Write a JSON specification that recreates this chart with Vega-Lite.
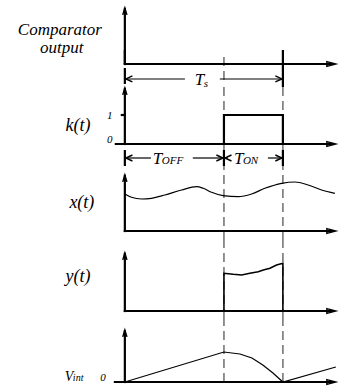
{
  "$schema": "https://vega.github.io/schema/vega-lite/v6.json",
  "padding": 0,
  "spacing": 0,
  "bounds": "flush",
  "background": "white",
  "config": {"view": {"stroke": null}, "concat": {"spacing": 0}, "text": {"font": "'Liberation Serif', 'Times New Roman', serif", "fontStyle": "italic", "color": "black", "baseline": "alphabetic"}},
  "datasets": {
    "parts": [
      {"panel": "c", "kind": "dash", "t": 0.627, "t2": 0.627, "v": 0.241, "v2": -0.69},
      {"panel": "c", "kind": "axis", "t": 0, "t2": 0, "v": 0, "v2": 1.9},
      {"panel": "c", "kind": "axis", "t": 0, "t2": 1.32, "v": 0, "v2": 0},
      {"panel": "c", "kind": "tick", "t": 0, "t2": 0, "v": 0, "v2": 0.483},
      {"panel": "c", "kind": "tick", "t": 1, "t2": 1, "v": 0.483, "v2": -0.69},
      {"panel": "c", "kind": "tick", "t": 0, "t2": 0, "v": -0.138, "v2": -0.69},
      {"panel": "c", "kind": "dim", "t": 0.006, "t2": 0.38, "v": -0.517, "v2": -0.517},
      {"panel": "c", "kind": "dim", "t": 0.601, "t2": 0.994, "v": -0.517, "v2": -0.517},
      {"panel": "c", "kind": "head", "dir": "up", "t": 0, "v": 1.931},
      {"panel": "c", "kind": "head", "dir": "right", "t": 1.335, "v": 0},
      {"panel": "c", "kind": "head", "dir": "left_dim", "t": 0.006, "v": -0.517},
      {"panel": "c", "kind": "head", "dir": "right_dim", "t": 0.994, "v": -0.517},
      {"panel": "c", "kind": "cap", "text": "Comparator", "t": -0.411, "v": 0.983},
      {"panel": "c", "kind": "cap", "text": "output", "t": -0.399, "v": 0.362},
      {"panel": "c", "kind": "T", "text": "T", "t": 0.443, "v": -0.724},
      {"panel": "c", "kind": "sub", "text": "s", "t": 0.5, "v": -0.793},

      {"panel": "k", "kind": "dash", "t": 0.627, "t2": 0.627, "v": -0.759, "v2": 2.069},
      {"panel": "k", "kind": "dash", "t": 1, "t2": 1, "v": -0.759, "v2": 2.069},
      {"panel": "k", "kind": "axis", "t": 0, "t2": 0, "v": 0, "v2": 1.9},
      {"panel": "k", "kind": "axis", "t": -0.057, "t2": 1.32, "v": 0, "v2": 0},
      {"panel": "k", "kind": "axis", "t": -0.019, "t2": 0, "v": 1, "v2": 1},
      {"panel": "k", "kind": "tick", "t": 0, "t2": 0, "v": -0.207, "v2": -0.759},
      {"panel": "k", "kind": "tick", "t": 0.627, "t2": 0.627, "v": -0.207, "v2": -0.759},
      {"panel": "k", "kind": "tick", "t": 1, "t2": 1, "v": -0.207, "v2": -0.759},
      {"panel": "k", "kind": "tick", "t": 1, "t2": 1, "v": 2.069, "v2": 1.966},
      {"panel": "k", "kind": "dim", "t": 0.006, "t2": 0.165, "v": -0.483, "v2": -0.483},
      {"panel": "k", "kind": "dim", "t": 0.43, "t2": 0.621, "v": -0.483, "v2": -0.483},
      {"panel": "k", "kind": "dim", "t": 0.633, "t2": 0.652, "v": -0.483, "v2": -0.483},
      {"panel": "k", "kind": "dim", "t": 0.905, "t2": 0.994, "v": -0.483, "v2": -0.483},
      {"panel": "k", "kind": "step", "i": 0, "t": 0.627, "v": 0},
      {"panel": "k", "kind": "step", "i": 1, "t": 0.627, "v": 1},
      {"panel": "k", "kind": "step", "i": 2, "t": 1, "v": 1},
      {"panel": "k", "kind": "step", "i": 3, "t": 1, "v": 0},
      {"panel": "k", "kind": "head", "dir": "up", "t": 0, "v": 1.931},
      {"panel": "k", "kind": "head", "dir": "right", "t": 1.335, "v": 0},
      {"panel": "k", "kind": "head", "dir": "left_dim", "t": 0.006, "v": -0.483},
      {"panel": "k", "kind": "head", "dir": "right_dim", "t": 0.621, "v": -0.483},
      {"panel": "k", "kind": "head", "dir": "left_dim", "t": 0.633, "v": -0.483},
      {"panel": "k", "kind": "head", "dir": "right_dim", "t": 0.994, "v": -0.483},
      {"panel": "k", "kind": "big", "text": "k(t)", "t": -0.297, "v": 0.448},
      {"panel": "k", "kind": "num", "text": "1", "t": -0.095, "v": 0.862},
      {"panel": "k", "kind": "num", "text": "0", "t": -0.095, "v": 0.034},
      {"panel": "k", "kind": "T", "text": "T", "t": 0.177, "v": -0.69},
      {"panel": "k", "kind": "sub", "text": "OFF", "t": 0.234, "v": -0.69},
      {"panel": "k", "kind": "T", "text": "T", "t": 0.69, "v": -0.69},
      {"panel": "k", "kind": "sub", "text": "ON", "t": 0.747, "v": -0.69},

      {"panel": "x", "kind": "dash", "t": 0.627, "t2": 0.627, "v": -0.31, "v2": 2.241},
      {"panel": "x", "kind": "dash", "t": 1, "t2": 1, "v": -0.31, "v2": 2.241},
      {"panel": "x", "kind": "axis", "t": 0, "t2": 0, "v": 0, "v2": 1.9},
      {"panel": "x", "kind": "axis", "t": 0, "t2": 1.32, "v": 0, "v2": 0},
      {"panel": "x", "kind": "head", "dir": "up", "t": 0, "v": 1.931},
      {"panel": "x", "kind": "head", "dir": "right", "t": 1.335, "v": 0},
      {"panel": "x", "kind": "wave", "i": 0, "t": 0, "v": 1.276},
      {"panel": "x", "kind": "wave", "i": 1, "t": 0.042, "v": 1.162},
      {"panel": "x", "kind": "wave", "i": 2, "t": 0.105, "v": 1.103},
      {"panel": "x", "kind": "wave", "i": 3, "t": 0.169, "v": 1.128},
      {"panel": "x", "kind": "wave", "i": 4, "t": 0.253, "v": 1.241},
      {"panel": "x", "kind": "wave", "i": 5, "t": 0.359, "v": 1.414},
      {"panel": "x", "kind": "wave", "i": 6, "t": 0.454, "v": 1.528},
      {"panel": "x", "kind": "wave", "i": 7, "t": 0.496, "v": 1.472},
      {"panel": "x", "kind": "wave", "i": 8, "t": 0.549, "v": 1.334},
      {"panel": "x", "kind": "wave", "i": 9, "t": 0.622, "v": 1.217},
      {"panel": "x", "kind": "wave", "i": 10, "t": 0.717, "v": 1.183},
      {"panel": "x", "kind": "wave", "i": 11, "t": 0.802, "v": 1.276},
      {"panel": "x", "kind": "wave", "i": 12, "t": 0.886, "v": 1.472},
      {"panel": "x", "kind": "wave", "i": 13, "t": 0.992, "v": 1.645},
      {"panel": "x", "kind": "wave", "i": 14, "t": 1.076, "v": 1.69},
      {"panel": "x", "kind": "wave", "i": 15, "t": 1.16, "v": 1.586},
      {"panel": "x", "kind": "wave", "i": 16, "t": 1.245, "v": 1.414},
      {"panel": "x", "kind": "wave", "i": 17, "t": 1.329, "v": 1.3},
      {"panel": "x", "kind": "big", "text": "x(t)", "t": -0.272, "v": 0.793},

      {"panel": "y", "kind": "dash", "t": 0.627, "t2": 0.627, "v": -0.241, "v2": 2.448},
      {"panel": "y", "kind": "dash", "t": 1, "t2": 1, "v": -0.241, "v2": 2.448},
      {"panel": "y", "kind": "axis", "t": 0, "t2": 0, "v": 0, "v2": 1.97},
      {"panel": "y", "kind": "axis", "t": 0, "t2": 1.32, "v": 0, "v2": 0},
      {"panel": "y", "kind": "head", "dir": "up", "t": 0, "v": 2.0},
      {"panel": "y", "kind": "head", "dir": "right", "t": 1.335, "v": 0},
      {"panel": "y", "kind": "trace", "i": 0, "t": 0.627, "v": 0},
      {"panel": "y", "kind": "trace", "i": 1, "t": 0.627, "v": 1.3},
      {"panel": "y", "kind": "trace", "i": 2, "t": 0.686, "v": 1.265},
      {"panel": "y", "kind": "trace", "i": 3, "t": 0.739, "v": 1.241},
      {"panel": "y", "kind": "trace", "i": 4, "t": 0.791, "v": 1.3},
      {"panel": "y", "kind": "trace", "i": 5, "t": 0.844, "v": 1.355},
      {"panel": "y", "kind": "trace", "i": 6, "t": 0.876, "v": 1.414},
      {"panel": "y", "kind": "trace", "i": 7, "t": 0.918, "v": 1.472},
      {"panel": "y", "kind": "trace", "i": 8, "t": 0.96, "v": 1.586},
      {"panel": "y", "kind": "trace", "i": 9, "t": 1, "v": 1.645},
      {"panel": "y", "kind": "trace", "i": 10, "t": 1, "v": 0},
      {"panel": "y", "kind": "big", "text": "y(t)", "t": -0.297, "v": 1.0},

      {"panel": "v", "kind": "dash", "t": 0.627, "t2": 0.627, "v": 0, "v2": 2.207},
      {"panel": "v", "kind": "dash", "t": 1, "t2": 1, "v": 0, "v2": 2.207},
      {"panel": "v", "kind": "axis", "t": 0, "t2": 0, "v": 0, "v2": 1.75},
      {"panel": "v", "kind": "axis", "t": -0.063, "t2": 1.32, "v": 0, "v2": 0},
      {"panel": "v", "kind": "head", "dir": "up", "t": 0, "v": 1.793},
      {"panel": "v", "kind": "head", "dir": "right", "t": 1.335, "v": 0},
      {"panel": "v", "kind": "trace", "i": 0, "t": 0, "v": 0},
      {"panel": "v", "kind": "trace", "i": 1, "t": 0.627, "v": 1.034},
      {"panel": "v", "kind": "trace", "i": 2, "t": 0.728, "v": 0.966},
      {"panel": "v", "kind": "trace", "i": 3, "t": 0.804, "v": 0.828},
      {"panel": "v", "kind": "trace", "i": 4, "t": 0.873, "v": 0.586},
      {"panel": "v", "kind": "trace", "i": 5, "t": 0.937, "v": 0.31},
      {"panel": "v", "kind": "trace", "i": 6, "t": 1, "v": 0},
      {"panel": "v", "kind": "trace", "i": 7, "t": 1.335, "v": 0.517},
      {"panel": "v", "kind": "V", "text": "V", "t": -0.38, "v": 0.034},
      {"panel": "v", "kind": "sub", "text": "int", "t": -0.329, "v": 0.034},
      {"panel": "v", "kind": "num", "text": "0", "t": -0.139, "v": 0.034}
    ]
  },
  "vconcat": [
    {
      "width": 339, "height": 84,
      "data": {"name": "parts"},
      "transform": [{"filter": "datum.panel === 'c'"}],
      "encoding": {
        "x": {"field": "t", "type": "quantitative", "scale": {"domain": [-0.79, 1.355], "nice": false, "zero": false}, "axis": null},
        "y": {"field": "v", "type": "quantitative", "scale": {"domain": [-0.69, 2.207], "nice": false, "zero": false}, "axis": null}
      },
      "layer": [
        {"transform": [{"filter": "datum.kind === 'dash'"}], "mark": {"type": "rule", "color": "#6e6e6e", "strokeWidth": 1.5, "strokeDash": [9, 5]}, "encoding": {"x2": {"field": "t2"}, "y2": {"field": "v2"}}},
        {"transform": [{"filter": "datum.kind === 'axis'"}], "mark": {"type": "rule", "color": "black", "strokeWidth": 2.2, "strokeCap": "square"}, "encoding": {"x2": {"field": "t2"}, "y2": {"field": "v2"}}},
        {"transform": [{"filter": "datum.kind === 'tick'"}], "mark": {"type": "rule", "color": "black", "strokeWidth": 2.2}, "encoding": {"x2": {"field": "t2"}, "y2": {"field": "v2"}}},
        {"transform": [{"filter": "datum.kind === 'dim'"}], "mark": {"type": "rule", "color": "black", "strokeWidth": 1.2}, "encoding": {"x2": {"field": "t2"}, "y2": {"field": "v2"}}},
        {"transform": [{"filter": "datum.kind === 'head'"}], "mark": {"type": "point", "filled": false, "color": "black", "strokeWidth": 1.4, "size": 36, "opacity": 1},
         "encoding": {"shape": {"field": "dir", "type": "nominal", "legend": null, "scale": {"domain": ["up", "right", "left_dim", "right_dim"], "range": ["M-0.7,2.3L0,0L0.7,2.3", "M-3,-0.8L0,0L-3,0.8Z", "M2.2,-1L0,0L2.2,1", "M-2.2,-1L0,0L-2.2,1"]}}}},
        {"transform": [{"filter": "datum.kind === 'cap'"}], "mark": {"type": "text", "fontSize": 17, "align": "center"}, "encoding": {"text": {"field": "text"}}},
        {"transform": [{"filter": "datum.kind === 'T'"}], "mark": {"type": "text", "fontSize": 17, "align": "left"}, "encoding": {"text": {"field": "text"}}},
        {"transform": [{"filter": "datum.kind === 'sub'"}], "mark": {"type": "text", "fontSize": 11, "align": "left"}, "encoding": {"text": {"field": "text"}}}
      ]
    },
    {
      "width": 339, "height": 82,
      "data": {"name": "parts"},
      "transform": [{"filter": "datum.panel === 'k'"}],
      "encoding": {
        "x": {"field": "t", "type": "quantitative", "scale": {"domain": [-0.79, 1.355], "nice": false, "zero": false}, "axis": null},
        "y": {"field": "v", "type": "quantitative", "scale": {"domain": [-0.759, 2.069], "nice": false, "zero": false}, "axis": null}
      },
      "layer": [
        {"transform": [{"filter": "datum.kind === 'dash'"}], "mark": {"type": "rule", "color": "#6e6e6e", "strokeWidth": 1.5, "strokeDash": [9, 5]}, "encoding": {"x2": {"field": "t2"}, "y2": {"field": "v2"}}},
        {"transform": [{"filter": "datum.kind === 'axis'"}], "mark": {"type": "rule", "color": "black", "strokeWidth": 2.2, "strokeCap": "square"}, "encoding": {"x2": {"field": "t2"}, "y2": {"field": "v2"}}},
        {"transform": [{"filter": "datum.kind === 'tick'"}], "mark": {"type": "rule", "color": "black", "strokeWidth": 2.2}, "encoding": {"x2": {"field": "t2"}, "y2": {"field": "v2"}}},
        {"transform": [{"filter": "datum.kind === 'dim'"}], "mark": {"type": "rule", "color": "black", "strokeWidth": 1.2}, "encoding": {"x2": {"field": "t2"}, "y2": {"field": "v2"}}},
        {"transform": [{"filter": "datum.kind === 'step'"}], "mark": {"type": "line", "color": "black", "strokeWidth": 2.2, "strokeJoin": "miter"}, "encoding": {"order": {"field": "i", "type": "quantitative"}}},
        {"transform": [{"filter": "datum.kind === 'head'"}], "mark": {"type": "point", "filled": false, "color": "black", "strokeWidth": 1.4, "size": 36, "opacity": 1},
         "encoding": {"shape": {"field": "dir", "type": "nominal", "legend": null, "scale": {"domain": ["up", "right", "left_dim", "right_dim"], "range": ["M-0.7,2.3L0,0L0.7,2.3", "M-3,-0.8L0,0L-3,0.8Z", "M2.2,-1L0,0L2.2,1", "M-2.2,-1L0,0L-2.2,1"]}}}},
        {"transform": [{"filter": "datum.kind === 'big'"}], "mark": {"type": "text", "fontSize": 18, "align": "center"}, "encoding": {"text": {"field": "text"}}},
        {"transform": [{"filter": "datum.kind === 'num'"}], "mark": {"type": "text", "fontSize": 11, "align": "center"}, "encoding": {"text": {"field": "text"}}},
        {"transform": [{"filter": "datum.kind === 'T'"}], "mark": {"type": "text", "fontSize": 17, "align": "left"}, "encoding": {"text": {"field": "text"}}},
        {"transform": [{"filter": "datum.kind === 'sub'"}], "mark": {"type": "text", "fontSize": 11, "align": "left"}, "encoding": {"text": {"field": "text"}}}
      ]
    },
    {
      "width": 339, "height": 74,
      "data": {"name": "parts"},
      "transform": [{"filter": "datum.panel === 'x'"}],
      "encoding": {
        "x": {"field": "t", "type": "quantitative", "scale": {"domain": [-0.79, 1.355], "nice": false, "zero": false}, "axis": null},
        "y": {"field": "v", "type": "quantitative", "scale": {"domain": [-0.31, 2.241], "nice": false, "zero": false}, "axis": null}
      },
      "layer": [
        {"transform": [{"filter": "datum.kind === 'dash'"}], "mark": {"type": "rule", "color": "#6e6e6e", "strokeWidth": 1.5, "strokeDash": [9, 5]}, "encoding": {"x2": {"field": "t2"}, "y2": {"field": "v2"}}},
        {"transform": [{"filter": "datum.kind === 'axis'"}], "mark": {"type": "rule", "color": "black", "strokeWidth": 2.2, "strokeCap": "square"}, "encoding": {"x2": {"field": "t2"}, "y2": {"field": "v2"}}},
        {"transform": [{"filter": "datum.kind === 'wave'"}], "mark": {"type": "line", "color": "black", "strokeWidth": 1.2, "interpolate": "monotone"}, "encoding": {"order": {"field": "i", "type": "quantitative"}}},
        {"transform": [{"filter": "datum.kind === 'head'"}], "mark": {"type": "point", "filled": false, "color": "black", "strokeWidth": 1.4, "size": 36, "opacity": 1},
         "encoding": {"shape": {"field": "dir", "type": "nominal", "legend": null, "scale": {"domain": ["up", "right", "left_dim", "right_dim"], "range": ["M-0.7,2.3L0,0L0.7,2.3", "M-3,-0.8L0,0L-3,0.8Z", "M2.2,-1L0,0L2.2,1", "M-2.2,-1L0,0L-2.2,1"]}}}},
        {"transform": [{"filter": "datum.kind === 'big'"}], "mark": {"type": "text", "fontSize": 18, "align": "center"}, "encoding": {"text": {"field": "text"}}}
      ]
    },
    {
      "width": 339, "height": 78,
      "data": {"name": "parts"},
      "transform": [{"filter": "datum.panel === 'y'"}],
      "encoding": {
        "x": {"field": "t", "type": "quantitative", "scale": {"domain": [-0.79, 1.355], "nice": false, "zero": false}, "axis": null},
        "y": {"field": "v", "type": "quantitative", "scale": {"domain": [-0.241, 2.448], "nice": false, "zero": false}, "axis": null}
      },
      "layer": [
        {"transform": [{"filter": "datum.kind === 'dash'"}], "mark": {"type": "rule", "color": "#6e6e6e", "strokeWidth": 1.5, "strokeDash": [9, 5]}, "encoding": {"x2": {"field": "t2"}, "y2": {"field": "v2"}}},
        {"transform": [{"filter": "datum.kind === 'axis'"}], "mark": {"type": "rule", "color": "black", "strokeWidth": 2.2, "strokeCap": "square"}, "encoding": {"x2": {"field": "t2"}, "y2": {"field": "v2"}}},
        {"transform": [{"filter": "datum.kind === 'trace'"}], "mark": {"type": "line", "color": "black", "strokeWidth": 1.6}, "encoding": {"order": {"field": "i", "type": "quantitative"}}},
        {"transform": [{"filter": "datum.kind === 'head'"}], "mark": {"type": "point", "filled": false, "color": "black", "strokeWidth": 1.4, "size": 36, "opacity": 1},
         "encoding": {"shape": {"field": "dir", "type": "nominal", "legend": null, "scale": {"domain": ["up", "right", "left_dim", "right_dim"], "range": ["M-0.7,2.3L0,0L0.7,2.3", "M-3,-0.8L0,0L-3,0.8Z", "M2.2,-1L0,0L2.2,1", "M-2.2,-1L0,0L-2.2,1"]}}}},
        {"transform": [{"filter": "datum.kind === 'big'"}], "mark": {"type": "text", "fontSize": 18, "align": "center"}, "encoding": {"text": {"field": "text"}}}
      ]
    },
    {
      "width": 339, "height": 70,
      "data": {"name": "parts"},
      "transform": [{"filter": "datum.panel === 'v'"}],
      "encoding": {
        "x": {"field": "t", "type": "quantitative", "scale": {"domain": [-0.79, 1.355], "nice": false, "zero": false}, "axis": null},
        "y": {"field": "v", "type": "quantitative", "scale": {"domain": [-0.207, 2.207], "nice": false, "zero": false}, "axis": null}
      },
      "layer": [
        {"transform": [{"filter": "datum.kind === 'dash'"}], "mark": {"type": "rule", "color": "#6e6e6e", "strokeWidth": 1.5, "strokeDash": [9, 5]}, "encoding": {"x2": {"field": "t2"}, "y2": {"field": "v2"}}},
        {"transform": [{"filter": "datum.kind === 'axis'"}], "mark": {"type": "rule", "color": "black", "strokeWidth": 2.2, "strokeCap": "square"}, "encoding": {"x2": {"field": "t2"}, "y2": {"field": "v2"}}},
        {"transform": [{"filter": "datum.kind === 'trace'"}], "mark": {"type": "line", "color": "black", "strokeWidth": 1.2}, "encoding": {"order": {"field": "i", "type": "quantitative"}}},
        {"transform": [{"filter": "datum.kind === 'head'"}], "mark": {"type": "point", "filled": false, "color": "black", "strokeWidth": 1.4, "size": 36, "opacity": 1},
         "encoding": {"shape": {"field": "dir", "type": "nominal", "legend": null, "scale": {"domain": ["up", "right", "left_dim", "right_dim"], "range": ["M-0.7,2.3L0,0L0.7,2.3", "M-3,-0.8L0,0L-3,0.8Z", "M2.2,-1L0,0L2.2,1", "M-2.2,-1L0,0L-2.2,1"]}}}},
        {"transform": [{"filter": "datum.kind === 'V'"}], "mark": {"type": "text", "fontSize": 14, "align": "left"}, "encoding": {"text": {"field": "text"}}},
        {"transform": [{"filter": "datum.kind === 'sub'"}], "mark": {"type": "text", "fontSize": 10, "align": "left"}, "encoding": {"text": {"field": "text"}}},
        {"transform": [{"filter": "datum.kind === 'num'"}], "mark": {"type": "text", "fontSize": 11, "align": "center"}, "encoding": {"text": {"field": "text"}}}
      ]
    }
  ]
}
